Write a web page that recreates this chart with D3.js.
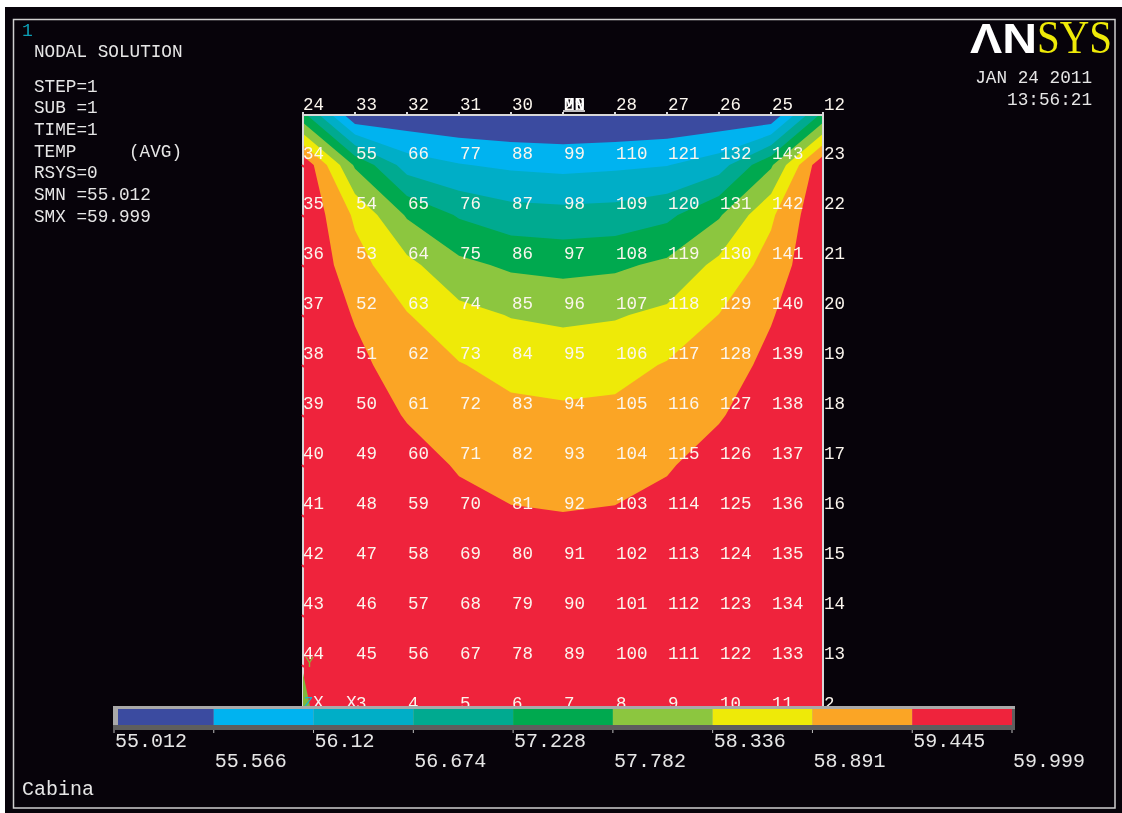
<!DOCTYPE html>
<html>
<head>
<meta charset="utf-8">
<title>Cabina - nodal solution</title>
<script src="https://cdn.jsdelivr.net/npm/d3@7/dist/d3.min.js"></script>
<style>
  html, body { margin: 0; padding: 0; background: #fff; }
  svg { display: block; filter: blur(0.4px); }
  text { font-family: "Liberation Mono", "DejaVu Sans Mono", monospace; white-space: pre; }
</style>
</head>
<body>
<svg id="chart" width="1122" height="813"></svg>
<script>
// contour levels, same as the legend labels
const levels = [55.012, 55.566, 56.12, 56.674, 57.228, 57.782, 58.336, 58.891, 59.445, 59.999]
const levelLabels = ['55.012', '55.566', '56.12', '56.674', '57.228', '57.782', '58.336', '58.891', '59.445', '59.999']
const bandColors = ['#3b4ba0', '#00b3f0', '#00aec7', '#00aa90', '#00a94f', '#8cc63f', '#eeea08', '#fba525', '#ef233c']

// nodal temperatures, one array per mesh column (top to bottom)
const tempCol0 = [57.4, 59.9, 59.93, 59.95, 59.97, 59.98, 59.98, 59.99, 59.99, 59.99, 59.99, 59.995, 59.999]
const tempCol1 = [55.1, 57.7, 58.8, 59.1, 59.4, 59.6, 59.75, 59.84, 59.9, 59.94, 59.96, 59.98, 59.99]
const tempCol2 = [55.16, 56.42, 57.72, 58.49, 58.92, 59.155, 59.405, 59.65, 59.78, 59.86, 59.92, 59.95, 59.97]
const tempCol3 = [55.08, 56.15, 57.17, 57.92, 58.51, 58.92, 59.17, 59.4, 59.6, 59.73, 59.83, 59.89, 59.92]
const tempCol4 = [55.03, 56.02, 56.91, 57.69, 58.31, 58.72, 59.03, 59.27, 59.49, 59.65, 59.77, 59.85, 59.89]
const tempCol5 = [55.012, 55.96, 56.86, 57.61, 58.23, 58.65, 58.99, 59.22, 59.46, 59.63, 59.75, 59.84, 59.88]
const tempCol6 = [55.03, 56.02, 56.9, 57.68, 58.29, 58.71, 59.02, 59.26, 59.49, 59.65, 59.77, 59.85, 59.89]
const tempCol7 = [55.08, 56.1, 57.1, 57.9, 58.46, 58.93, 59.17, 59.4, 59.6, 59.73, 59.83, 59.89, 59.92]
const tempCol8 = [55.15, 56.42, 57.72, 58.48, 58.9, 59.15, 59.4, 59.65, 59.78, 59.86, 59.92, 59.95, 59.97]
const tempCol9 = [55.1, 57.7, 58.8, 59.1, 59.4, 59.6, 59.75, 59.84, 59.9, 59.94, 59.96, 59.98, 59.99]
const tempCol10 = [57.4, 59.9, 59.93, 59.95, 59.97, 59.98, 59.98, 59.99, 59.99, 59.99, 59.99, 59.995, 59.999]
const tempCols = [tempCol0, tempCol1, tempCol2, tempCol3, tempCol4, tempCol5, tempCol6, tempCol7, tempCol8, tempCol9, tempCol10]

// node numbers shown on the mesh
const topNodes = ['24', '33', '32', '31', '30', '29', '28', '27', '26', '25', '12']
const colNodes0 = [34, 35, 36, 37, 38, 39, 40, 41, 42, 43, 44]
const colNodes1 = [55, 54, 53, 52, 51, 50, 49, 48, 47, 46, 45]
const colNodes2 = [66, 65, 64, 63, 62, 61, 60, 59, 58, 57, 56]
const colNodes3 = [77, 76, 75, 74, 73, 72, 71, 70, 69, 68, 67]
const colNodes4 = [88, 87, 86, 85, 84, 83, 82, 81, 80, 79, 78]
const colNodes5 = [99, 98, 97, 96, 95, 94, 93, 92, 91, 90, 89]
const colNodes6 = [110, 109, 108, 107, 106, 105, 104, 103, 102, 101, 100]
const colNodes7 = [121, 120, 119, 118, 117, 116, 115, 114, 113, 112, 111]
const colNodes8 = [132, 131, 130, 129, 128, 127, 126, 125, 124, 123, 122]
const colNodes9 = [143, 142, 141, 140, 139, 138, 137, 136, 135, 134, 133]
const colNodes10 = [23, 22, 21, 20, 19, 18, 17, 16, 15, 14, 13]
const midNodes = [colNodes0, colNodes1, colNodes2, colNodes3, colNodes4, colNodes5, colNodes6, colNodes7, colNodes8, colNodes9, colNodes10]
const bottomNodes = ['1', '3', '4', '5', '6', '7', '8', '9', '10', '11', '2']

// header text
const infoLines = [['NODAL SOLUTION', 34, 57], ['STEP=1', 34, 92], ['SUB =1', 34, 113], ['TIME=1', 34, 135], ['TEMP', 34, 157], ['(AVG)', 129, 157], ['RSYS=0', 34, 178], ['SMN =55.012', 34, 200], ['SMX =59.999', 34, 222]]

const svg = d3.select('#chart')
const nCols = tempCols.length
const nRows = tempCol0.length
const x = d3.scaleLinear().domain([0, nCols - 1]).range([303, 823])
const y = d3.scaleLinear().domain([0, nRows - 1]).range([115, 715])
const legendX = d3.scaleLinear().domain([0, levels.length - 1]).range([114, 1012])

const ink = '#e6e6e6'
const page = '#07030a'

svg.append('rect').attr('x', 5).attr('y', 7).attr('width', 1117).attr('height', 806).attr('fill', page)
svg.append('rect').attr('x', 13.5).attr('y', 19.5).attr('width', 1101.5).attr('height', 788.5)
  .attr('fill', 'none').attr('stroke', '#cfcfcf').attr('stroke-width', 1.5)

// plate contours: filled from the lowest band up
const values = []
for (let r = 0; r < nRows; r++) for (let c = 0; c < nCols; c++) values.push(tempCols[c][r])

const contours = d3.contours().size([nCols, nRows]).thresholds(levels.slice(0, -1))(values)
const path = d3.geoPath(d3.geoTransform({
  point(px, py) { this.stream.point(x(px - 0.5), y(py - 0.5)) }
}))

svg.append('clipPath').attr('id', 'plate')
  .append('rect')
  .attr('x', x(0)).attr('y', y(0))
  .attr('width', x(nCols - 1) - x(0)).attr('height', y(nRows - 1) - y(0))

svg.append('g').attr('clip-path', 'url(#plate)')
  .selectAll('path')
  .data(contours)
  .join('path')
  .attr('d', path)
  .attr('fill', (d, i) => bandColors[i])

// plate outline and node ticks
const outline = svg.append('g').attr('stroke', '#d8d8d8').attr('stroke-width', 2).attr('fill', 'none')
outline.append('path').attr('d', `M${x(0)},${y(nRows - 1)}V${y(0)}H${x(nCols - 1)}V${y(nRows - 1)}`)
outline.selectAll('line.top')
  .data(d3.range(nCols))
  .join('line')
  .attr('class', 'top')
  .attr('x1', d => x(d)).attr('x2', d => x(d))
  .attr('y1', y(0) - 3).attr('y2', y(0))
svg.append('g').selectAll('line')
  .data(d3.range(1, nRows - 1))
  .join('line')
  .attr('x1', x(0) - 1).attr('x2', x(0) + 1)
  .attr('y1', d => y(d)).attr('y2', d => y(d) + 2)
  .attr('stroke', '#ef233c').attr('stroke-width', 2)

// node numbers
const nodeLabels = []
topNodes.forEach((t, c) => nodeLabels.push({ t, c, r: 0 }))
midNodes.forEach((col, c) => col.forEach((t, i) => nodeLabels.push({ t, c, r: i + 1 })))
bottomNodes.forEach((t, c) => nodeLabels.push({ t, c, r: nRows - 1 }))

svg.append('g')
  .attr('font-size', 17.5)
  .attr('fill', '#fbf6ee')
  .selectAll('text')
  .data(nodeLabels.filter(d => d.t !== '1'))
  .join('text')
  .attr('x', d => x(d.c) + (d.c === 0 ? 0 : 1))
  .attr('y', d => y(d.r) - (d.r === 0 ? 5 : 6))
  .text(d => d.t)

// MN marker overprints node 29
svg.append('text').attr('x', x(5) + 1).attr('y', y(0) - 5)
  .attr('font-size', 17.5).attr('font-weight', 'bold').attr('fill', '#fff').text('MN')
svg.append('line').attr('x1', x(5)).attr('x2', x(5) + 22).attr('y1', y(0) - 4).attr('y2', y(0) - 4)
  .attr('stroke', '#fff').attr('stroke-width', 1.5)

// triad at the origin
svg.append('path')
  .attr('d', `M${x(0)},${y(11) + 8}L${x(0) + 7},${y(12) - 9}H${x(0)}Z`)
  .attr('fill', '#7fb83a')
svg.append('text').attr('x', x(0) + 2).attr('y', y(11) + 2).attr('font-size', 15).attr('fill', '#8db33a').text('Y')
svg.append('text').attr('x', x(0) + 1).attr('y', y(12) - 8).attr('font-size', 15).attr('fill', '#19b5c9').text('Z')
svg.append('text').attr('x', x(0) + 10).attr('y', y(12) - 7).attr('font-size', 18).attr('fill', '#fbeef0').text('X')
svg.append('text').attr('x', x(1) - 9).attr('y', y(12) - 7).attr('font-size', 18).attr('fill', '#fbeef0').text('X')

// legend bar
const legend = svg.append('g')
legend.append('rect').attr('x', 113).attr('y', 706).attr('width', 902).attr('height', 24).attr('fill', '#a9a9a9')
legend.append('path').attr('d', 'M118,725H1012V709H1015V730H113V725Z').attr('fill', '#5e5e5e')
legend.selectAll('rect.band')
  .data(bandColors)
  .join('rect')
  .attr('class', 'band')
  .attr('x', (d, i) => Math.max(legendX(i), 118))
  .attr('y', 709)
  .attr('width', (d, i) => legendX(i + 1) - Math.max(legendX(i), 118))
  .attr('height', 16)
  .attr('fill', d => d)
legend.selectAll('line')
  .data(levels)
  .join('line')
  .attr('x1', (d, i) => legendX(i)).attr('x2', (d, i) => legendX(i))
  .attr('y1', 730).attr('y2', 733)
  .attr('stroke', '#bdbdbd')
legend.selectAll('text')
  .data(levelLabels)
  .join('text')
  .attr('x', (d, i) => legendX(i) + 1)
  .attr('y', (d, i) => (i % 2 ? 767 : 747))
  .attr('font-size', 20)
  .attr('fill', ink)
  .text(d => d)

// header block
svg.append('text').attr('x', 22).attr('y', 36).attr('font-size', 18).attr('fill', '#0c9fb5').text('1')
svg.append('g').attr('font-size', 17.7).attr('fill', ink)
  .selectAll('text')
  .data(infoLines)
  .join('text')
  .attr('x', d => d[1])
  .attr('y', d => d[2])
  .text(d => d[0])

svg.append('text').attr('x', 1092).attr('y', 83).attr('text-anchor', 'end').attr('font-size', 17.7).attr('fill', ink).text('JAN 24 2011')
svg.append('text').attr('x', 1092).attr('y', 105).attr('text-anchor', 'end').attr('font-size', 17.7).attr('fill', ink).text('13:56:21')
svg.append('text').attr('x', 22).attr('y', 795).attr('font-size', 20).attr('fill', ink).text('Cabina')

// logo
svg.append('text').attr('x', 970).attr('y', 53).attr('font-size', 43).attr('font-weight', 'bold')
  .attr('textLength', 67).attr('lengthAdjust', 'spacingAndGlyphs')
  .style('font-family', '"Liberation Sans", sans-serif').attr('fill', '#fff').text('ΛN')
svg.append('text').attr('x', 1037).attr('y', 53).attr('font-size', 46)
  .attr('textLength', 75).attr('lengthAdjust', 'spacingAndGlyphs')
  .style('font-family', '"Liberation Serif", serif').attr('fill', '#eeea08').text('SYS')
</script>
</body>
</html>
